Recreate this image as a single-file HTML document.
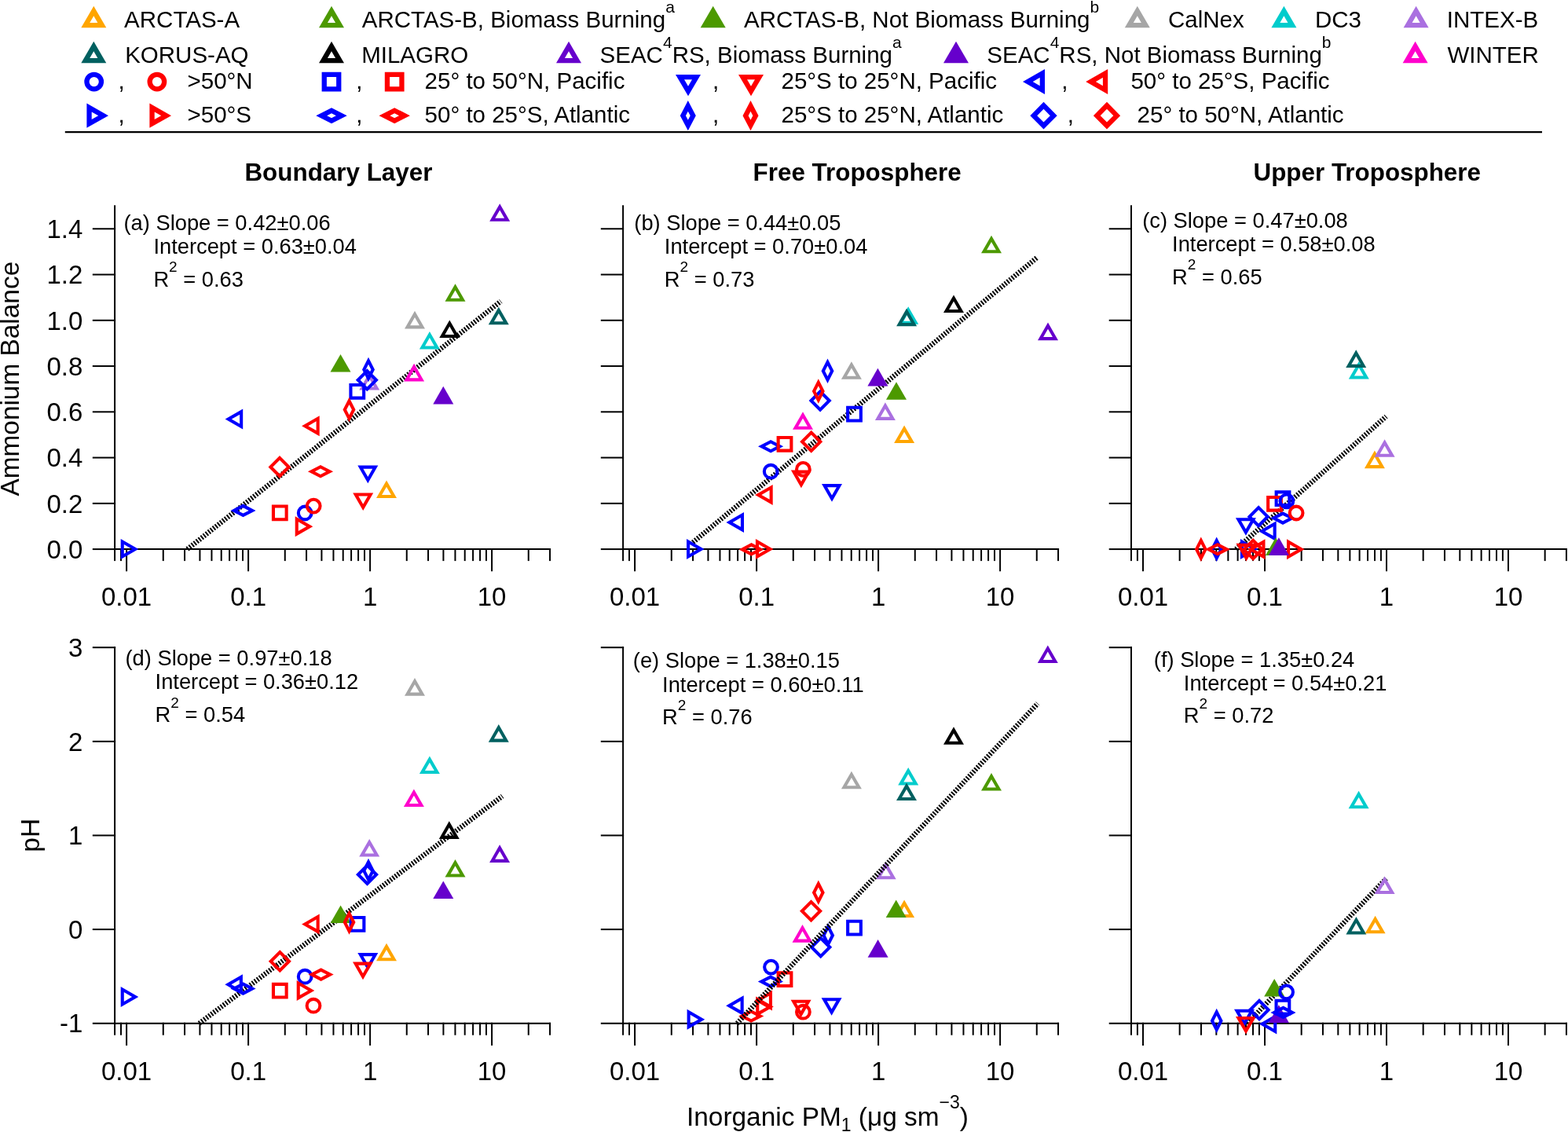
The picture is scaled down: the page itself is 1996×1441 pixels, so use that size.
<!DOCTYPE html><html><head><meta charset="utf-8"><title>Ammonium balance and pH vs inorganic PM1</title><style>html,body{margin:0;padding:0;background:#fff;}svg{display:block;}text{font-family:'Liberation Sans', Arial, sans-serif;fill:#000;}</style></head><body>
<svg width="1996" height="1441" viewBox="0 0 1996 1441">
<rect width="1996" height="1441" fill="#fff"/>
<path d="M119.3,7.8 L135.3,35.3 L103.3,35.3 Z M114.25,29 L124.35,29 L119.3,20.33 Z" fill="#FFA500" fill-rule="evenodd"/>
<text x="158.1" y="34.7" font-size="29.5">ARCTAS-A</text>
<path d="M422,7.8 L438,35.3 L406,35.3 Z M416.95,29 L427.05,29 L422,20.33 Z" fill="#4C9900" fill-rule="evenodd"/>
<text x="460.8" y="34.7" font-size="29.5">ARCTAS-B, Biomass Burning<tspan font-size="21" dy="-19">a</tspan></text>
<path d="M907.7,7.8 L923.7,35.3 L891.7,35.3 Z" fill="#4C9900"/>
<text x="947" y="34.7" font-size="29.5">ARCTAS-B, Not Biomass Burning<tspan font-size="21" dy="-19">b</tspan></text>
<path d="M1447.8,7.8 L1463.8,35.3 L1431.8,35.3 Z M1442.75,29 L1452.85,29 L1447.8,20.33 Z" fill="#A6A6A6" fill-rule="evenodd"/>
<text x="1487" y="34.7" font-size="29.5">CalNex</text>
<path d="M1634.4,7.8 L1650.4,35.3 L1618.4,35.3 Z M1629.35,29 L1639.45,29 L1634.4,20.33 Z" fill="#00CCCC" fill-rule="evenodd"/>
<text x="1674" y="34.7" font-size="29.5">DC3</text>
<path d="M1802.6,7.8 L1818.6,35.3 L1786.6,35.3 Z M1797.55,29 L1807.65,29 L1802.6,20.33 Z" fill="#AA70E0" fill-rule="evenodd"/>
<text x="1841.8" y="34.7" font-size="29.5">INTEX-B</text>
<path d="M119.3,52.75 L135.3,80.25 L103.3,80.25 Z M114.25,73.95 L124.35,73.95 L119.3,65.28 Z" fill="#006060" fill-rule="evenodd"/>
<text x="159.2" y="79.8" font-size="29.5">KORUS-AQ</text>
<path d="M422,52.75 L438,80.25 L406,80.25 Z M416.95,73.95 L427.05,73.95 L422,65.28 Z" fill="#000000" fill-rule="evenodd"/>
<text x="460.2" y="79.8" font-size="29.5">MILAGRO</text>
<path d="M724,52.75 L740,80.25 L708,80.25 Z M718.95,73.95 L729.05,73.95 L724,65.28 Z" fill="#6600CC" fill-rule="evenodd"/>
<text x="763.6" y="79.8" font-size="29.5">SEAC<tspan font-size="21" dy="-19">4</tspan><tspan font-size="29.5" dy="19">RS, Biomass Burning</tspan><tspan font-size="21" dy="-19">a</tspan></text>
<path d="M1217,52.75 L1233,80.25 L1201,80.25 Z" fill="#6600CC"/>
<text x="1256.3" y="79.8" font-size="29.5">SEAC<tspan font-size="21" dy="-19">4</tspan><tspan font-size="29.5" dy="19">RS, Not Biomass Burning</tspan><tspan font-size="21" dy="-19">b</tspan></text>
<path d="M1801.6,52.75 L1817.6,80.25 L1785.6,80.25 Z M1796.55,73.95 L1806.65,73.95 L1801.6,65.28 Z" fill="#FF00CC" fill-rule="evenodd"/>
<text x="1842.5" y="79.8" font-size="29.5">WINTER</text>
<circle cx="119.7" cy="104.1" r="9.25" fill="none" stroke="#0000FF" stroke-width="6.3"/>
<text x="150.6" y="112.8" font-size="29.5">,</text>
<circle cx="199.9" cy="104.1" r="9.25" fill="none" stroke="#FF0000" stroke-width="6.3"/>
<text x="238.5" y="112.8" font-size="29.5">&gt;50°N</text>
<path d="M409.6,91.7 L434.4,91.7 L434.4,116.5 L409.6,116.5 Z M415.9,110.2 L428.1,110.2 L428.1,98 L415.9,98 Z" fill="#0000FF" fill-rule="evenodd"/>
<text x="453.3" y="112.8" font-size="29.5">,</text>
<path d="M489.8,91.7 L514.6,91.7 L514.6,116.5 L489.8,116.5 Z M496.1,110.2 L508.3,110.2 L508.3,98 L496.1,98 Z" fill="#FF0000" fill-rule="evenodd"/>
<text x="540.6" y="112.8" font-size="29.5">25° to 50°N, Pacific</text>
<path d="M860,95 L892,95 L876,122.2 Z M876,109.77 L880.98,101.3 L871.02,101.3 Z" fill="#0000FF" fill-rule="evenodd"/>
<text x="907" y="112.8" font-size="29.5">,</text>
<path d="M940,95 L972,95 L956,122.2 Z M956,109.77 L960.98,101.3 L951.02,101.3 Z" fill="#FF0000" fill-rule="evenodd"/>
<text x="994.5" y="112.8" font-size="29.5">25°S to 25°N, Pacific</text>
<path d="M1302,104 L1330,88 L1330,120 Z M1323.7,109.14 L1323.7,98.86 L1314.7,104 Z" fill="#0000FF" fill-rule="evenodd"/>
<text x="1351.3" y="112.8" font-size="29.5">,</text>
<path d="M1382.2,104 L1410.2,88 L1410.2,120 Z M1403.9,109.14 L1403.9,98.86 L1394.9,104 Z" fill="#FF0000" fill-rule="evenodd"/>
<text x="1439.4" y="112.8" font-size="29.5">50° to 25°S, Pacific</text>
<path d="M110.4,131.6 L138,147.2 L110.4,162.8 Z M116.7,152 L125.2,147.2 L116.7,142.4 Z" fill="#0000FF" fill-rule="evenodd"/>
<text x="150.6" y="156.2" font-size="29.5">,</text>
<path d="M190.4,131.6 L218,147.2 L190.4,162.8 Z M196.7,152 L205.2,147.2 L196.7,142.4 Z" fill="#FF0000" fill-rule="evenodd"/>
<text x="238.5" y="156.2" font-size="29.5">&gt;50°S</text>
<path d="M422,137.15 L441.7,147.2 L422,157.25 L402.3,147.2 Z M416.16,147.2 L422,150.18 L427.84,147.2 L422,144.22 Z" fill="#0000FF" fill-rule="evenodd"/>
<text x="453.3" y="156.2" font-size="29.5">,</text>
<path d="M502.2,137.15 L521.9,147.2 L502.2,157.25 L482.5,147.2 Z M496.36,147.2 L502.2,150.18 L508.04,147.2 L502.2,144.22 Z" fill="#FF0000" fill-rule="evenodd"/>
<text x="540.6" y="156.2" font-size="29.5">50° to 25°S, Atlantic</text>
<path d="M875.8,128.05 L885.8,147.2 L875.8,166.35 L865.8,147.2 Z M872.91,147.2 L875.8,152.74 L878.69,147.2 L875.8,141.66 Z" fill="#0000FF" fill-rule="evenodd"/>
<text x="907" y="156.2" font-size="29.5">,</text>
<path d="M955.5,128.05 L965.5,147.2 L955.5,166.35 L945.5,147.2 Z M952.61,147.2 L955.5,152.74 L958.39,147.2 L955.5,141.66 Z" fill="#FF0000" fill-rule="evenodd"/>
<text x="994.5" y="156.2" font-size="29.5">25°S to 25°N, Atlantic</text>
<path d="M1328.5,129.85 L1345.65,147.2 L1328.5,164.55 L1311.35,147.2 Z M1320.21,147.2 L1328.5,155.59 L1336.79,147.2 L1328.5,138.81 Z" fill="#0000FF" fill-rule="evenodd"/>
<text x="1358.8" y="156.2" font-size="29.5">,</text>
<path d="M1409,129.85 L1426.15,147.2 L1409,164.55 L1391.85,147.2 Z M1400.71,147.2 L1409,155.59 L1417.29,147.2 L1409,138.81 Z" fill="#FF0000" fill-rule="evenodd"/>
<text x="1447.6" y="156.2" font-size="29.5">25° to 50°N, Atlantic</text>
<line x1="82.8" y1="168.2" x2="1963" y2="168.2" stroke="#000" stroke-width="2.2"/>
<text x="430.95" y="230.1" font-size="31.4" font-weight="bold" text-anchor="middle">Boundary Layer</text>
<text x="1091.15" y="230.1" font-size="31.4" font-weight="bold" text-anchor="middle">Free Troposphere</text>
<text x="1740.25" y="230.2" font-size="31.4" font-weight="bold" text-anchor="middle">Upper Troposphere</text>
<text transform="translate(24.4,482.2) rotate(-90)" font-size="33.4" text-anchor="middle">Ammonium Balance</text>
<text transform="translate(50,1063.3) rotate(-90)" font-size="33.4" text-anchor="middle">pH</text>
<text x="874.0" y="1432.5" font-size="33.4">Inorganic PM<tspan font-size="23" dy="7.5">1</tspan><tspan font-size="33.4" dy="-7.5"> (μg sm</tspan><tspan font-size="23" dy="-21.8">−3</tspan><tspan font-size="33.4" dy="21.8">)</tspan></text>
<g stroke="#000" stroke-width="2" stroke-linecap="square" fill="none"><line x1="146.1" y1="262.15" x2="146.1" y2="699.1"/><line x1="146.1" y1="699.1" x2="700.05" y2="699.1"/><line x1="118.8" y1="699.1" x2="146.1" y2="699.1"/><line x1="118.8" y1="640.84" x2="146.1" y2="640.84"/><line x1="118.8" y1="582.58" x2="146.1" y2="582.58"/><line x1="118.8" y1="524.32" x2="146.1" y2="524.32"/><line x1="118.8" y1="466.06" x2="146.1" y2="466.06"/><line x1="118.8" y1="407.8" x2="146.1" y2="407.8"/><line x1="118.8" y1="349.54" x2="146.1" y2="349.54"/><line x1="118.8" y1="291.28" x2="146.1" y2="291.28"/><line x1="146.08" y1="699.1" x2="146.08" y2="713.1"/><line x1="154.01" y1="699.1" x2="154.01" y2="713.1"/><line x1="161.1" y1="699.1" x2="161.1" y2="726.3"/><line x1="207.76" y1="699.1" x2="207.76" y2="713.1"/><line x1="235.05" y1="699.1" x2="235.05" y2="713.1"/><line x1="254.42" y1="699.1" x2="254.42" y2="713.1"/><line x1="269.44" y1="699.1" x2="269.44" y2="713.1"/><line x1="281.71" y1="699.1" x2="281.71" y2="713.1"/><line x1="292.09" y1="699.1" x2="292.09" y2="713.1"/><line x1="301.08" y1="699.1" x2="301.08" y2="713.1"/><line x1="309.01" y1="699.1" x2="309.01" y2="713.1"/><line x1="316.1" y1="699.1" x2="316.1" y2="726.3"/><line x1="362.76" y1="699.1" x2="362.76" y2="713.1"/><line x1="390.05" y1="699.1" x2="390.05" y2="713.1"/><line x1="409.42" y1="699.1" x2="409.42" y2="713.1"/><line x1="424.44" y1="699.1" x2="424.44" y2="713.1"/><line x1="436.71" y1="699.1" x2="436.71" y2="713.1"/><line x1="447.09" y1="699.1" x2="447.09" y2="713.1"/><line x1="456.08" y1="699.1" x2="456.08" y2="713.1"/><line x1="464.01" y1="699.1" x2="464.01" y2="713.1"/><line x1="471.1" y1="699.1" x2="471.1" y2="726.3"/><line x1="517.76" y1="699.1" x2="517.76" y2="713.1"/><line x1="545.05" y1="699.1" x2="545.05" y2="713.1"/><line x1="564.42" y1="699.1" x2="564.42" y2="713.1"/><line x1="579.44" y1="699.1" x2="579.44" y2="713.1"/><line x1="591.71" y1="699.1" x2="591.71" y2="713.1"/><line x1="602.09" y1="699.1" x2="602.09" y2="713.1"/><line x1="611.08" y1="699.1" x2="611.08" y2="713.1"/><line x1="619.01" y1="699.1" x2="619.01" y2="713.1"/><line x1="626.1" y1="699.1" x2="626.1" y2="726.3"/><line x1="672.76" y1="699.1" x2="672.76" y2="713.1"/><line x1="700.05" y1="699.1" x2="700.05" y2="713.1"/></g>
<text x="105.3" y="710.8" font-size="33" text-anchor="end">0.0</text>
<text x="105.3" y="652.54" font-size="33" text-anchor="end">0.2</text>
<text x="105.3" y="594.28" font-size="33" text-anchor="end">0.4</text>
<text x="105.3" y="536.02" font-size="33" text-anchor="end">0.6</text>
<text x="105.3" y="477.76" font-size="33" text-anchor="end">0.8</text>
<text x="105.3" y="419.5" font-size="33" text-anchor="end">1.0</text>
<text x="105.3" y="361.24" font-size="33" text-anchor="end">1.2</text>
<text x="105.3" y="302.98" font-size="33" text-anchor="end">1.4</text>
<text x="161.1" y="771.1" font-size="33" text-anchor="middle">0.01</text>
<text x="316.1" y="771.1" font-size="33" text-anchor="middle">0.1</text>
<text x="471.1" y="771.1" font-size="33" text-anchor="middle">1</text>
<text x="626.1" y="771.1" font-size="33" text-anchor="middle">10</text>
<text x="157.5" y="292.7" font-size="27.3">(a) Slope = 0.42±0.06</text>
<text x="195.4" y="323" font-size="27.3">Intercept = 0.63±0.04</text>
<text x="195.4" y="364.7" font-size="27.3">R<tspan font-size="19" dy="-18.5">2</tspan><tspan font-size="27.3" dy="18.5"> = 0.63</tspan></text>
<line x1="238.4" y1="699.1" x2="637.5" y2="383.5" stroke="#000" stroke-width="6.4" stroke-dasharray="2.0 1.85"/>
<path d="M153.7,686 L176.3,699 L153.7,712 Z M157.8,704.91 L168.08,699 L157.8,693.09 Z" fill="#0000FF" fill-rule="evenodd"/>
<path d="M286.6,533.6 L309.2,520.6 L309.2,546.6 Z M305.1,539.51 L305.1,527.69 L294.82,533.6 Z" fill="#0000FF" fill-rule="evenodd"/>
<path d="M384.1,542.2 L406.7,529.2 L406.7,555.2 Z M402.6,548.11 L402.6,536.29 L392.32,542.2 Z" fill="#FF0000" fill-rule="evenodd"/>
<path d="M356,580 L370.5,594.5 L356,609 L341.5,594.5 Z M347.3,594.5 L356,603.2 L364.7,594.5 L356,585.8 Z" fill="#FF0000" fill-rule="evenodd"/>
<path d="M408,592 L424.1,600.3 L408,608.6 L391.9,600.3 Z M400.85,600.3 L408,603.99 L415.15,600.3 L408,596.61 Z" fill="#FF0000" fill-rule="evenodd"/>
<path d="M309.5,641.6 L325.6,649.9 L309.5,658.2 L293.4,649.9 Z M302.35,649.9 L309.5,653.59 L316.65,649.9 L309.5,646.21 Z" fill="#0000FF" fill-rule="evenodd"/>
<path d="M345.9,642.5 L366.7,642.5 L366.7,663.3 L345.9,663.3 Z M350,659.2 L362.6,659.2 L362.6,646.6 L350,646.6 Z" fill="#FF0000" fill-rule="evenodd"/>
<circle cx="388.2" cy="653" r="8.35" fill="none" stroke="#0000FF" stroke-width="4.1"/>
<circle cx="399.2" cy="644.1" r="8.35" fill="none" stroke="#FF0000" stroke-width="4.1"/>
<path d="M375.7,657.2 L398.3,670.2 L375.7,683.2 Z M379.8,676.11 L390.08,670.2 L379.8,664.29 Z" fill="#FF0000" fill-rule="evenodd"/>
<path d="M433.5,450.9 L446.5,473.5 L420.5,473.5 Z" fill="#4C9900"/>
<path d="M470.2,474 L483.2,496.6 L457.2,496.6 Z M464.29,492.5 L476.11,492.5 L470.2,482.22 Z" fill="#AA70E0" fill-rule="evenodd"/>
<path d="M469,454.75 L477,470.5 L469,486.25 L461,470.5 Z M465.6,470.5 L469,477.2 L472.4,470.5 L469,463.8 Z" fill="#0000FF" fill-rule="evenodd"/>
<path d="M467.3,469.2 L481.8,483.7 L467.3,498.2 L452.8,483.7 Z M458.6,483.7 L467.3,492.4 L476,483.7 L467.3,475 Z" fill="#0000FF" fill-rule="evenodd"/>
<path d="M444.4,487.9 L465.2,487.9 L465.2,508.7 L444.4,508.7 Z M448.5,504.6 L461.1,504.6 L461.1,492 L448.5,492 Z" fill="#0000FF" fill-rule="evenodd"/>
<path d="M444.5,505.85 L452.5,521.6 L444.5,537.35 L436.5,521.6 Z M441.1,521.6 L444.5,528.3 L447.9,521.6 L444.5,514.9 Z" fill="#FF0000" fill-rule="evenodd"/>
<path d="M527.1,462.8 L540.1,485.4 L514.1,485.4 Z M521.19,481.3 L533.01,481.3 L527.1,471.02 Z" fill="#FF00CC" fill-rule="evenodd"/>
<path d="M546.9,421.9 L559.9,444.5 L533.9,444.5 Z M540.99,440.4 L552.81,440.4 L546.9,430.12 Z" fill="#00CCCC" fill-rule="evenodd"/>
<path d="M564.3,491.8 L577.3,514.4 L551.3,514.4 Z" fill="#6600CC"/>
<path d="M455.3,592.6 L481.3,592.6 L468.3,615.2 Z M468.3,606.98 L474.21,596.7 L462.39,596.7 Z" fill="#0000FF" fill-rule="evenodd"/>
<path d="M449.2,627.4 L475.2,627.4 L462.2,650 Z M462.2,641.78 L468.11,631.5 L456.29,631.5 Z" fill="#FF0000" fill-rule="evenodd"/>
<path d="M492,611.5 L505,634.1 L479,634.1 Z M486.09,630 L497.91,630 L492,619.72 Z" fill="#FFA500" fill-rule="evenodd"/>
<path d="M636.2,259.2 L649.2,281.8 L623.2,281.8 Z M630.29,277.7 L642.11,277.7 L636.2,267.42 Z" fill="#6600CC" fill-rule="evenodd"/>
<path d="M579.5,361.2 L592.5,383.8 L566.5,383.8 Z M573.59,379.7 L585.41,379.7 L579.5,369.42 Z" fill="#4C9900" fill-rule="evenodd"/>
<path d="M528,395.8 L541,418.4 L515,418.4 Z M522.09,414.3 L533.91,414.3 L528,404.02 Z" fill="#A6A6A6" fill-rule="evenodd"/>
<path d="M572.3,407.4 L585.3,430 L559.3,430 Z M566.39,425.9 L578.21,425.9 L572.3,415.62 Z" fill="#000000" fill-rule="evenodd"/>
<path d="M634.8,390.7 L647.8,413.3 L621.8,413.3 Z M628.89,409.2 L640.71,409.2 L634.8,398.92 Z" fill="#006060" fill-rule="evenodd"/>
<g stroke="#000" stroke-width="2" stroke-linecap="square" fill="none"><line x1="793.1" y1="262.15" x2="793.1" y2="699.1"/><line x1="793.1" y1="699.1" x2="1347.05" y2="699.1"/><line x1="765.8" y1="699.1" x2="793.1" y2="699.1"/><line x1="765.8" y1="640.84" x2="793.1" y2="640.84"/><line x1="765.8" y1="582.58" x2="793.1" y2="582.58"/><line x1="765.8" y1="524.32" x2="793.1" y2="524.32"/><line x1="765.8" y1="466.06" x2="793.1" y2="466.06"/><line x1="765.8" y1="407.8" x2="793.1" y2="407.8"/><line x1="765.8" y1="349.54" x2="793.1" y2="349.54"/><line x1="765.8" y1="291.28" x2="793.1" y2="291.28"/><line x1="793.08" y1="699.1" x2="793.08" y2="713.1"/><line x1="801.01" y1="699.1" x2="801.01" y2="713.1"/><line x1="808.1" y1="699.1" x2="808.1" y2="726.3"/><line x1="854.76" y1="699.1" x2="854.76" y2="713.1"/><line x1="882.05" y1="699.1" x2="882.05" y2="713.1"/><line x1="901.42" y1="699.1" x2="901.42" y2="713.1"/><line x1="916.44" y1="699.1" x2="916.44" y2="713.1"/><line x1="928.71" y1="699.1" x2="928.71" y2="713.1"/><line x1="939.09" y1="699.1" x2="939.09" y2="713.1"/><line x1="948.08" y1="699.1" x2="948.08" y2="713.1"/><line x1="956.01" y1="699.1" x2="956.01" y2="713.1"/><line x1="963.1" y1="699.1" x2="963.1" y2="726.3"/><line x1="1009.76" y1="699.1" x2="1009.76" y2="713.1"/><line x1="1037.05" y1="699.1" x2="1037.05" y2="713.1"/><line x1="1056.42" y1="699.1" x2="1056.42" y2="713.1"/><line x1="1071.44" y1="699.1" x2="1071.44" y2="713.1"/><line x1="1083.71" y1="699.1" x2="1083.71" y2="713.1"/><line x1="1094.09" y1="699.1" x2="1094.09" y2="713.1"/><line x1="1103.08" y1="699.1" x2="1103.08" y2="713.1"/><line x1="1111.01" y1="699.1" x2="1111.01" y2="713.1"/><line x1="1118.1" y1="699.1" x2="1118.1" y2="726.3"/><line x1="1164.76" y1="699.1" x2="1164.76" y2="713.1"/><line x1="1192.05" y1="699.1" x2="1192.05" y2="713.1"/><line x1="1211.42" y1="699.1" x2="1211.42" y2="713.1"/><line x1="1226.44" y1="699.1" x2="1226.44" y2="713.1"/><line x1="1238.71" y1="699.1" x2="1238.71" y2="713.1"/><line x1="1249.09" y1="699.1" x2="1249.09" y2="713.1"/><line x1="1258.08" y1="699.1" x2="1258.08" y2="713.1"/><line x1="1266.01" y1="699.1" x2="1266.01" y2="713.1"/><line x1="1273.1" y1="699.1" x2="1273.1" y2="726.3"/><line x1="1319.76" y1="699.1" x2="1319.76" y2="713.1"/><line x1="1347.05" y1="699.1" x2="1347.05" y2="713.1"/></g>
<text x="808.1" y="771.1" font-size="33" text-anchor="middle">0.01</text>
<text x="963.1" y="771.1" font-size="33" text-anchor="middle">0.1</text>
<text x="1118.1" y="771.1" font-size="33" text-anchor="middle">1</text>
<text x="1273.1" y="771.1" font-size="33" text-anchor="middle">10</text>
<text x="807.3" y="292.5" font-size="27.3">(b) Slope = 0.44±0.05</text>
<text x="845.8" y="323.4" font-size="27.3">Intercept = 0.70±0.04</text>
<text x="845.8" y="364.6" font-size="27.3">R<tspan font-size="19" dy="-18.5">2</tspan><tspan font-size="27.3" dy="18.5"> = 0.73</tspan></text>
<line x1="882" y1="690.4" x2="1320.5" y2="327.5" stroke="#000" stroke-width="6.4" stroke-dasharray="2.0 1.85"/>
<path d="M874,686 L896.6,699 L874,712 Z M878.1,704.91 L888.38,699 L878.1,693.09 Z" fill="#0000FF" fill-rule="evenodd"/>
<path d="M924.4,664.9 L947,651.9 L947,677.9 Z M942.9,670.81 L942.9,658.99 L932.62,664.9 Z" fill="#0000FF" fill-rule="evenodd"/>
<path d="M961.1,629.9 L983.7,616.9 L983.7,642.9 Z M979.6,635.81 L979.6,623.99 L969.32,629.9 Z" fill="#FF0000" fill-rule="evenodd"/>
<path d="M1006.9,598.6 L1032.9,598.6 L1019.9,621.2 Z M1019.9,612.98 L1025.81,602.7 L1013.99,602.7 Z" fill="#FF0000" fill-rule="evenodd"/>
<circle cx="981.2" cy="600.2" r="8.35" fill="none" stroke="#0000FF" stroke-width="4.1"/>
<circle cx="1022.4" cy="597.4" r="8.35" fill="none" stroke="#FF0000" stroke-width="4.1"/>
<path d="M981.1,560 L997.2,568.3 L981.1,576.6 L965,568.3 Z M973.95,568.3 L981.1,571.99 L988.25,568.3 L981.1,564.61 Z" fill="#0000FF" fill-rule="evenodd"/>
<path d="M988.6,554.9 L1009.4,554.9 L1009.4,575.7 L988.6,575.7 Z M992.7,571.6 L1005.3,571.6 L1005.3,559 L992.7,559 Z" fill="#FF0000" fill-rule="evenodd"/>
<path d="M1022,524.2 L1035,546.8 L1009,546.8 Z M1016.09,542.7 L1027.91,542.7 L1022,532.42 Z" fill="#FF00CC" fill-rule="evenodd"/>
<path d="M1032.7,547.8 L1047.2,562.3 L1032.7,576.8 L1018.2,562.3 Z M1024,562.3 L1032.7,571 L1041.4,562.3 L1032.7,553.6 Z" fill="#FF0000" fill-rule="evenodd"/>
<path d="M1044.1,495.5 L1058.6,510 L1044.1,524.5 L1029.6,510 Z M1035.4,510 L1044.1,518.7 L1052.8,510 L1044.1,501.3 Z" fill="#0000FF" fill-rule="evenodd"/>
<path d="M1041.8,482.25 L1049.8,498 L1041.8,513.75 L1033.8,498 Z M1038.4,498 L1041.8,504.7 L1045.2,498 L1041.8,491.3 Z" fill="#FF0000" fill-rule="evenodd"/>
<path d="M1046,616.1 L1072,616.1 L1059,638.7 Z M1059,630.48 L1064.91,620.2 L1053.09,620.2 Z" fill="#0000FF" fill-rule="evenodd"/>
<path d="M956.5,691.1 L972.6,699.4 L956.5,707.7 L940.4,699.4 Z M949.35,699.4 L956.5,703.09 L963.65,699.4 L956.5,695.71 Z" fill="#FF0000" fill-rule="evenodd"/>
<path d="M961.9,686 L984.5,699 L961.9,712 Z M966,704.91 L976.28,699 L966,693.09 Z" fill="#FF0000" fill-rule="evenodd"/>
<path d="M1053.5,456.55 L1061.5,472.3 L1053.5,488.05 L1045.5,472.3 Z M1050.1,472.3 L1053.5,479 L1056.9,472.3 L1053.5,465.6 Z" fill="#0000FF" fill-rule="evenodd"/>
<path d="M1083.9,460.2 L1096.9,482.8 L1070.9,482.8 Z M1077.99,478.7 L1089.81,478.7 L1083.9,468.42 Z" fill="#A6A6A6" fill-rule="evenodd"/>
<path d="M1117.4,468.8 L1130.4,491.4 L1104.4,491.4 Z" fill="#6600CC"/>
<path d="M1141,486.2 L1154,508.8 L1128,508.8 Z" fill="#4C9900"/>
<path d="M1126.9,512.3 L1139.9,534.9 L1113.9,534.9 Z M1120.99,530.8 L1132.81,530.8 L1126.9,520.52 Z" fill="#AA70E0" fill-rule="evenodd"/>
<path d="M1151.1,541.5 L1164.1,564.1 L1138.1,564.1 Z M1145.19,560 L1157.01,560 L1151.1,549.72 Z" fill="#FFA500" fill-rule="evenodd"/>
<path d="M1077.1,516.7 L1097.9,516.7 L1097.9,537.5 L1077.1,537.5 Z M1081.2,533.4 L1093.8,533.4 L1093.8,520.8 L1081.2,520.8 Z" fill="#0000FF" fill-rule="evenodd"/>
<path d="M1156.2,390.2 L1169.2,412.8 L1143.2,412.8 Z M1150.29,408.7 L1162.11,408.7 L1156.2,398.42 Z" fill="#00CCCC" fill-rule="evenodd"/>
<path d="M1154.1,392.6 L1167.1,415.2 L1141.1,415.2 Z M1148.19,411.1 L1160.01,411.1 L1154.1,400.82 Z" fill="#006060" fill-rule="evenodd"/>
<path d="M1214,375.4 L1227,398 L1201,398 Z M1208.09,393.9 L1219.91,393.9 L1214,383.62 Z" fill="#000000" fill-rule="evenodd"/>
<path d="M1262,299.7 L1275,322.3 L1249,322.3 Z M1256.09,318.2 L1267.91,318.2 L1262,307.92 Z" fill="#4C9900" fill-rule="evenodd"/>
<path d="M1334,410.6 L1347,433.2 L1321,433.2 Z M1328.09,429.1 L1339.91,429.1 L1334,418.82 Z" fill="#6600CC" fill-rule="evenodd"/>
<g stroke="#000" stroke-width="2" stroke-linecap="square" fill="none"><line x1="1440" y1="262.15" x2="1440" y2="699.1"/><line x1="1440" y1="699.1" x2="1993.95" y2="699.1"/><line x1="1412.7" y1="699.1" x2="1440" y2="699.1"/><line x1="1412.7" y1="640.84" x2="1440" y2="640.84"/><line x1="1412.7" y1="582.58" x2="1440" y2="582.58"/><line x1="1412.7" y1="524.32" x2="1440" y2="524.32"/><line x1="1412.7" y1="466.06" x2="1440" y2="466.06"/><line x1="1412.7" y1="407.8" x2="1440" y2="407.8"/><line x1="1412.7" y1="349.54" x2="1440" y2="349.54"/><line x1="1412.7" y1="291.28" x2="1440" y2="291.28"/><line x1="1439.98" y1="699.1" x2="1439.98" y2="713.1"/><line x1="1447.91" y1="699.1" x2="1447.91" y2="713.1"/><line x1="1455" y1="699.1" x2="1455" y2="726.3"/><line x1="1501.66" y1="699.1" x2="1501.66" y2="713.1"/><line x1="1528.95" y1="699.1" x2="1528.95" y2="713.1"/><line x1="1548.32" y1="699.1" x2="1548.32" y2="713.1"/><line x1="1563.34" y1="699.1" x2="1563.34" y2="713.1"/><line x1="1575.61" y1="699.1" x2="1575.61" y2="713.1"/><line x1="1585.99" y1="699.1" x2="1585.99" y2="713.1"/><line x1="1594.98" y1="699.1" x2="1594.98" y2="713.1"/><line x1="1602.91" y1="699.1" x2="1602.91" y2="713.1"/><line x1="1610" y1="699.1" x2="1610" y2="726.3"/><line x1="1656.66" y1="699.1" x2="1656.66" y2="713.1"/><line x1="1683.95" y1="699.1" x2="1683.95" y2="713.1"/><line x1="1703.32" y1="699.1" x2="1703.32" y2="713.1"/><line x1="1718.34" y1="699.1" x2="1718.34" y2="713.1"/><line x1="1730.61" y1="699.1" x2="1730.61" y2="713.1"/><line x1="1740.99" y1="699.1" x2="1740.99" y2="713.1"/><line x1="1749.98" y1="699.1" x2="1749.98" y2="713.1"/><line x1="1757.91" y1="699.1" x2="1757.91" y2="713.1"/><line x1="1765" y1="699.1" x2="1765" y2="726.3"/><line x1="1811.66" y1="699.1" x2="1811.66" y2="713.1"/><line x1="1838.95" y1="699.1" x2="1838.95" y2="713.1"/><line x1="1858.32" y1="699.1" x2="1858.32" y2="713.1"/><line x1="1873.34" y1="699.1" x2="1873.34" y2="713.1"/><line x1="1885.61" y1="699.1" x2="1885.61" y2="713.1"/><line x1="1895.99" y1="699.1" x2="1895.99" y2="713.1"/><line x1="1904.98" y1="699.1" x2="1904.98" y2="713.1"/><line x1="1912.91" y1="699.1" x2="1912.91" y2="713.1"/><line x1="1920" y1="699.1" x2="1920" y2="726.3"/><line x1="1966.66" y1="699.1" x2="1966.66" y2="713.1"/><line x1="1993.95" y1="699.1" x2="1993.95" y2="713.1"/></g>
<text x="1455" y="771.1" font-size="33" text-anchor="middle">0.01</text>
<text x="1610" y="771.1" font-size="33" text-anchor="middle">0.1</text>
<text x="1765" y="771.1" font-size="33" text-anchor="middle">1</text>
<text x="1920" y="771.1" font-size="33" text-anchor="middle">10</text>
<text x="1454.2" y="289.6" font-size="27.3">(c) Slope = 0.47±0.08</text>
<text x="1492.1" y="320.2" font-size="27.3">Intercept = 0.58±0.08</text>
<text x="1492.1" y="361.7" font-size="27.3">R<tspan font-size="19" dy="-18.5">2</tspan><tspan font-size="27.3" dy="18.5"> = 0.65</tspan></text>
<line x1="1573.3" y1="699.1" x2="1764.5" y2="530.1" stroke="#000" stroke-width="6.4" stroke-dasharray="2.0 1.85"/>
<path d="M1528.8,683.45 L1536.8,699.2 L1528.8,714.95 L1520.8,699.2 Z M1525.4,699.2 L1528.8,705.9 L1532.2,699.2 L1528.8,692.5 Z" fill="#FF0000" fill-rule="evenodd"/>
<path d="M1548.7,683.45 L1556.7,699.2 L1548.7,714.95 L1540.7,699.2 Z M1545.3,699.2 L1548.7,705.9 L1552.1,699.2 L1548.7,692.5 Z" fill="#0000FF" fill-rule="evenodd"/>
<path d="M1550,690.9 L1566.1,699.2 L1550,707.5 L1533.9,699.2 Z M1542.85,699.2 L1550,702.89 L1557.15,699.2 L1550,695.51 Z" fill="#FF0000" fill-rule="evenodd"/>
<path d="M1572.9,659.2 L1598.9,659.2 L1585.9,681.8 Z M1585.9,673.58 L1591.81,663.3 L1579.99,663.3 Z" fill="#0000FF" fill-rule="evenodd"/>
<path d="M1602.1,643.2 L1616.6,657.7 L1602.1,672.2 L1587.6,657.7 Z M1593.4,657.7 L1602.1,666.4 L1610.8,657.7 L1602.1,649 Z" fill="#0000FF" fill-rule="evenodd"/>
<path d="M1602.1,676.2 L1624.7,663.2 L1624.7,689.2 Z M1620.6,682.11 L1620.6,670.29 L1610.32,676.2 Z" fill="#0000FF" fill-rule="evenodd"/>
<path d="M1633,651.3 L1649.1,659.6 L1633,667.9 L1616.9,659.6 Z M1625.85,659.6 L1633,663.29 L1640.15,659.6 L1633,655.91 Z" fill="#0000FF" fill-rule="evenodd"/>
<path d="M1622.6,624.3 L1643.4,624.3 L1643.4,645.1 L1622.6,645.1 Z M1626.7,641 L1639.3,641 L1639.3,628.4 L1626.7,628.4 Z" fill="#0000FF" fill-rule="evenodd"/>
<path d="M1612.1,630.9 L1632.9,630.9 L1632.9,651.7 L1612.1,651.7 Z M1616.2,647.6 L1628.8,647.6 L1628.8,635 L1616.2,635 Z" fill="#FF0000" fill-rule="evenodd"/>
<circle cx="1637.9" cy="637.8" r="8.35" fill="none" stroke="#0000FF" stroke-width="4.1"/>
<circle cx="1650.1" cy="653" r="8.35" fill="none" stroke="#FF0000" stroke-width="4.1"/>
<path d="M1638,686.2 L1660.6,699.2 L1638,712.2 Z M1642.1,705.11 L1652.38,699.2 L1642.1,693.29 Z" fill="#FF0000" fill-rule="evenodd"/>
<path d="M1623.9,684.3 L1636.9,706.9 L1610.9,706.9 Z" fill="#4C9900"/>
<path d="M1627.9,684.3 L1640.9,706.9 L1614.9,706.9 Z" fill="#6600CC"/>
<path d="M1578.9,685.9 L1601.5,698.9 L1578.9,711.9 Z M1583,704.81 L1593.28,698.9 L1583,692.99 Z" fill="#0000FF" fill-rule="evenodd"/>
<path d="M1573.5,691.8 L1599.5,691.8 L1586.5,714.4 Z M1586.5,706.18 L1592.41,695.9 L1580.59,695.9 Z" fill="#FF0000" fill-rule="evenodd"/>
<path d="M1595.1,685 L1609.6,699.5 L1595.1,714 L1580.6,699.5 Z M1586.4,699.5 L1595.1,708.2 L1603.8,699.5 L1595.1,690.8 Z" fill="#FF0000" fill-rule="evenodd"/>
<path d="M1587.9,699.3 L1610.5,686.3 L1610.5,712.3 Z M1606.4,705.21 L1606.4,693.39 L1596.12,699.3 Z" fill="#FF0000" fill-rule="evenodd"/>
<path d="M1729.8,460 L1742.8,482.6 L1716.8,482.6 Z M1723.89,478.5 L1735.71,478.5 L1729.8,468.22 Z" fill="#00CCCC" fill-rule="evenodd"/>
<path d="M1726.2,445.3 L1739.2,467.9 L1713.2,467.9 Z M1720.29,463.8 L1732.11,463.8 L1726.2,453.52 Z" fill="#006060" fill-rule="evenodd"/>
<path d="M1749.9,573.6 L1762.9,596.2 L1736.9,596.2 Z M1743.99,592.1 L1755.81,592.1 L1749.9,581.82 Z" fill="#FFA500" fill-rule="evenodd"/>
<path d="M1762.6,559.2 L1775.6,581.8 L1749.6,581.8 Z M1756.69,577.7 L1768.51,577.7 L1762.6,567.42 Z" fill="#AA70E0" fill-rule="evenodd"/>
<g stroke="#000" stroke-width="2" stroke-linecap="square" fill="none"><line x1="146.1" y1="824.21" x2="146.1" y2="1302.73"/><line x1="146.1" y1="1302.73" x2="700.05" y2="1302.73"/><line x1="118.8" y1="1302.73" x2="146.1" y2="1302.73"/><line x1="118.8" y1="1183.1" x2="146.1" y2="1183.1"/><line x1="118.8" y1="1063.47" x2="146.1" y2="1063.47"/><line x1="118.8" y1="943.84" x2="146.1" y2="943.84"/><line x1="118.8" y1="824.21" x2="146.1" y2="824.21"/><line x1="146.08" y1="1302.73" x2="146.08" y2="1316.73"/><line x1="154.01" y1="1302.73" x2="154.01" y2="1316.73"/><line x1="161.1" y1="1302.73" x2="161.1" y2="1329.93"/><line x1="207.76" y1="1302.73" x2="207.76" y2="1316.73"/><line x1="235.05" y1="1302.73" x2="235.05" y2="1316.73"/><line x1="254.42" y1="1302.73" x2="254.42" y2="1316.73"/><line x1="269.44" y1="1302.73" x2="269.44" y2="1316.73"/><line x1="281.71" y1="1302.73" x2="281.71" y2="1316.73"/><line x1="292.09" y1="1302.73" x2="292.09" y2="1316.73"/><line x1="301.08" y1="1302.73" x2="301.08" y2="1316.73"/><line x1="309.01" y1="1302.73" x2="309.01" y2="1316.73"/><line x1="316.1" y1="1302.73" x2="316.1" y2="1329.93"/><line x1="362.76" y1="1302.73" x2="362.76" y2="1316.73"/><line x1="390.05" y1="1302.73" x2="390.05" y2="1316.73"/><line x1="409.42" y1="1302.73" x2="409.42" y2="1316.73"/><line x1="424.44" y1="1302.73" x2="424.44" y2="1316.73"/><line x1="436.71" y1="1302.73" x2="436.71" y2="1316.73"/><line x1="447.09" y1="1302.73" x2="447.09" y2="1316.73"/><line x1="456.08" y1="1302.73" x2="456.08" y2="1316.73"/><line x1="464.01" y1="1302.73" x2="464.01" y2="1316.73"/><line x1="471.1" y1="1302.73" x2="471.1" y2="1329.93"/><line x1="517.76" y1="1302.73" x2="517.76" y2="1316.73"/><line x1="545.05" y1="1302.73" x2="545.05" y2="1316.73"/><line x1="564.42" y1="1302.73" x2="564.42" y2="1316.73"/><line x1="579.44" y1="1302.73" x2="579.44" y2="1316.73"/><line x1="591.71" y1="1302.73" x2="591.71" y2="1316.73"/><line x1="602.09" y1="1302.73" x2="602.09" y2="1316.73"/><line x1="611.08" y1="1302.73" x2="611.08" y2="1316.73"/><line x1="619.01" y1="1302.73" x2="619.01" y2="1316.73"/><line x1="626.1" y1="1302.73" x2="626.1" y2="1329.93"/><line x1="672.76" y1="1302.73" x2="672.76" y2="1316.73"/><line x1="700.05" y1="1302.73" x2="700.05" y2="1316.73"/></g>
<text x="105.3" y="1314.43" font-size="33" text-anchor="end">-1</text>
<text x="105.3" y="1194.8" font-size="33" text-anchor="end">0</text>
<text x="105.3" y="1075.17" font-size="33" text-anchor="end">1</text>
<text x="105.3" y="955.54" font-size="33" text-anchor="end">2</text>
<text x="105.3" y="835.91" font-size="33" text-anchor="end">3</text>
<text x="161.1" y="1374.73" font-size="33" text-anchor="middle">0.01</text>
<text x="316.1" y="1374.73" font-size="33" text-anchor="middle">0.1</text>
<text x="471.1" y="1374.73" font-size="33" text-anchor="middle">1</text>
<text x="626.1" y="1374.73" font-size="33" text-anchor="middle">10</text>
<text x="159.5" y="847" font-size="27.3">(d) Slope = 0.97±0.18</text>
<text x="197.6" y="877.2" font-size="27.3">Intercept = 0.36±0.12</text>
<text x="197.6" y="919.1" font-size="27.3">R<tspan font-size="19" dy="-18.5">2</tspan><tspan font-size="27.3" dy="18.5"> = 0.54</tspan></text>
<line x1="253.6" y1="1302.7" x2="639.5" y2="1013.5" stroke="#000" stroke-width="6.4" stroke-dasharray="2.0 1.85"/>
<path d="M153.7,1256 L176.3,1269 L153.7,1282 Z M157.8,1274.91 L168.08,1269 L157.8,1263.09 Z" fill="#0000FF" fill-rule="evenodd"/>
<path d="M286.3,1253.2 L308.9,1240.2 L308.9,1266.2 Z M304.8,1259.11 L304.8,1247.29 L294.52,1253.2 Z" fill="#0000FF" fill-rule="evenodd"/>
<path d="M309.5,1250.3 L325.6,1258.6 L309.5,1266.9 L293.4,1258.6 Z M302.35,1258.6 L309.5,1262.29 L316.65,1258.6 L309.5,1254.91 Z" fill="#0000FF" fill-rule="evenodd"/>
<path d="M356.3,1209.3 L370.8,1223.8 L356.3,1238.3 L341.8,1223.8 Z M347.6,1223.8 L356.3,1232.5 L365,1223.8 L356.3,1215.1 Z" fill="#FF0000" fill-rule="evenodd"/>
<path d="M384.1,1176.4 L406.7,1163.4 L406.7,1189.4 Z M402.6,1182.31 L402.6,1170.49 L392.32,1176.4 Z" fill="#FF0000" fill-rule="evenodd"/>
<circle cx="388.2" cy="1243.2" r="8.35" fill="none" stroke="#0000FF" stroke-width="4.1"/>
<path d="M408.6,1232.3 L424.7,1240.6 L408.6,1248.9 L392.5,1240.6 Z M401.45,1240.6 L408.6,1244.29 L415.75,1240.6 L408.6,1236.91 Z" fill="#FF0000" fill-rule="evenodd"/>
<path d="M345.9,1250.8 L366.7,1250.8 L366.7,1271.6 L345.9,1271.6 Z M350,1267.5 L362.6,1267.5 L362.6,1254.9 L350,1254.9 Z" fill="#FF0000" fill-rule="evenodd"/>
<path d="M377.7,1247.9 L400.3,1260.9 L377.7,1273.9 Z M381.8,1266.81 L392.08,1260.9 L381.8,1254.99 Z" fill="#FF0000" fill-rule="evenodd"/>
<circle cx="399" cy="1280.2" r="8.35" fill="none" stroke="#FF0000" stroke-width="4.1"/>
<path d="M470.2,1068 L483.2,1090.6 L457.2,1090.6 Z M464.29,1086.5 L476.11,1086.5 L470.2,1076.22 Z" fill="#AA70E0" fill-rule="evenodd"/>
<path d="M469,1092.75 L477,1108.5 L469,1124.25 L461,1108.5 Z M465.6,1108.5 L469,1115.2 L472.4,1108.5 L469,1101.8 Z" fill="#0000FF" fill-rule="evenodd"/>
<path d="M467.5,1098.7 L482,1113.2 L467.5,1127.7 L453,1113.2 Z M458.8,1113.2 L467.5,1121.9 L476.2,1113.2 L467.5,1104.5 Z" fill="#0000FF" fill-rule="evenodd"/>
<path d="M571.8,1045.3 L584.8,1067.9 L558.8,1067.9 Z M565.89,1063.8 L577.71,1063.8 L571.8,1053.52 Z" fill="#000000" fill-rule="evenodd"/>
<path d="M636.1,1075.3 L649.1,1097.9 L623.1,1097.9 Z M630.19,1093.8 L642.01,1093.8 L636.1,1083.52 Z" fill="#6600CC" fill-rule="evenodd"/>
<path d="M579.5,1094 L592.5,1116.6 L566.5,1116.6 Z M573.59,1112.5 L585.41,1112.5 L579.5,1102.22 Z" fill="#4C9900" fill-rule="evenodd"/>
<path d="M564.3,1121.5 L577.3,1144.1 L551.3,1144.1 Z" fill="#6600CC"/>
<path d="M433.6,1152.5 L446.6,1175.1 L420.6,1175.1 Z" fill="#4C9900"/>
<path d="M444.6,1166 L465.4,1166 L465.4,1186.8 L444.6,1186.8 Z M448.7,1182.7 L461.3,1182.7 L461.3,1170.1 L448.7,1170.1 Z" fill="#0000FF" fill-rule="evenodd"/>
<path d="M444.5,1158.35 L452.5,1174.1 L444.5,1189.85 L436.5,1174.1 Z M441.1,1174.1 L444.5,1180.8 L447.9,1174.1 L444.5,1167.4 Z" fill="#FF0000" fill-rule="evenodd"/>
<path d="M492,1200.7 L505,1223.3 L479,1223.3 Z M486.09,1219.2 L497.91,1219.2 L492,1208.92 Z" fill="#FFA500" fill-rule="evenodd"/>
<path d="M455.3,1213.1 L481.3,1213.1 L468.3,1235.7 Z M468.3,1227.48 L474.21,1217.2 L462.39,1217.2 Z" fill="#0000FF" fill-rule="evenodd"/>
<path d="M449,1224.6 L475,1224.6 L462,1247.2 Z M462,1238.98 L467.91,1228.7 L456.09,1228.7 Z" fill="#FF0000" fill-rule="evenodd"/>
<path d="M526.9,1004.5 L539.9,1027.1 L513.9,1027.1 Z M520.99,1023 L532.81,1023 L526.9,1012.72 Z" fill="#FF00CC" fill-rule="evenodd"/>
<path d="M528,863.1 L541,885.7 L515,885.7 Z M522.09,881.6 L533.91,881.6 L528,871.32 Z" fill="#A6A6A6" fill-rule="evenodd"/>
<path d="M634.8,922.1 L647.8,944.7 L621.8,944.7 Z M628.89,940.6 L640.71,940.6 L634.8,930.32 Z" fill="#006060" fill-rule="evenodd"/>
<path d="M546.9,962.5 L559.9,985.1 L533.9,985.1 Z M540.99,981 L552.81,981 L546.9,970.72 Z" fill="#00CCCC" fill-rule="evenodd"/>
<g stroke="#000" stroke-width="2" stroke-linecap="square" fill="none"><line x1="793.1" y1="824.21" x2="793.1" y2="1302.73"/><line x1="793.1" y1="1302.73" x2="1347.05" y2="1302.73"/><line x1="765.8" y1="1302.73" x2="793.1" y2="1302.73"/><line x1="765.8" y1="1183.1" x2="793.1" y2="1183.1"/><line x1="765.8" y1="1063.47" x2="793.1" y2="1063.47"/><line x1="765.8" y1="943.84" x2="793.1" y2="943.84"/><line x1="765.8" y1="824.21" x2="793.1" y2="824.21"/><line x1="793.08" y1="1302.73" x2="793.08" y2="1316.73"/><line x1="801.01" y1="1302.73" x2="801.01" y2="1316.73"/><line x1="808.1" y1="1302.73" x2="808.1" y2="1329.93"/><line x1="854.76" y1="1302.73" x2="854.76" y2="1316.73"/><line x1="882.05" y1="1302.73" x2="882.05" y2="1316.73"/><line x1="901.42" y1="1302.73" x2="901.42" y2="1316.73"/><line x1="916.44" y1="1302.73" x2="916.44" y2="1316.73"/><line x1="928.71" y1="1302.73" x2="928.71" y2="1316.73"/><line x1="939.09" y1="1302.73" x2="939.09" y2="1316.73"/><line x1="948.08" y1="1302.73" x2="948.08" y2="1316.73"/><line x1="956.01" y1="1302.73" x2="956.01" y2="1316.73"/><line x1="963.1" y1="1302.73" x2="963.1" y2="1329.93"/><line x1="1009.76" y1="1302.73" x2="1009.76" y2="1316.73"/><line x1="1037.05" y1="1302.73" x2="1037.05" y2="1316.73"/><line x1="1056.42" y1="1302.73" x2="1056.42" y2="1316.73"/><line x1="1071.44" y1="1302.73" x2="1071.44" y2="1316.73"/><line x1="1083.71" y1="1302.73" x2="1083.71" y2="1316.73"/><line x1="1094.09" y1="1302.73" x2="1094.09" y2="1316.73"/><line x1="1103.08" y1="1302.73" x2="1103.08" y2="1316.73"/><line x1="1111.01" y1="1302.73" x2="1111.01" y2="1316.73"/><line x1="1118.1" y1="1302.73" x2="1118.1" y2="1329.93"/><line x1="1164.76" y1="1302.73" x2="1164.76" y2="1316.73"/><line x1="1192.05" y1="1302.73" x2="1192.05" y2="1316.73"/><line x1="1211.42" y1="1302.73" x2="1211.42" y2="1316.73"/><line x1="1226.44" y1="1302.73" x2="1226.44" y2="1316.73"/><line x1="1238.71" y1="1302.73" x2="1238.71" y2="1316.73"/><line x1="1249.09" y1="1302.73" x2="1249.09" y2="1316.73"/><line x1="1258.08" y1="1302.73" x2="1258.08" y2="1316.73"/><line x1="1266.01" y1="1302.73" x2="1266.01" y2="1316.73"/><line x1="1273.1" y1="1302.73" x2="1273.1" y2="1329.93"/><line x1="1319.76" y1="1302.73" x2="1319.76" y2="1316.73"/><line x1="1347.05" y1="1302.73" x2="1347.05" y2="1316.73"/></g>
<text x="808.1" y="1374.73" font-size="33" text-anchor="middle">0.01</text>
<text x="963.1" y="1374.73" font-size="33" text-anchor="middle">0.1</text>
<text x="1118.1" y="1374.73" font-size="33" text-anchor="middle">1</text>
<text x="1273.1" y="1374.73" font-size="33" text-anchor="middle">10</text>
<text x="805.8" y="850.3" font-size="27.3">(e) Slope = 1.38±0.15</text>
<text x="843.1" y="881" font-size="27.3">Intercept = 0.60±0.11</text>
<text x="843.1" y="922.4" font-size="27.3">R<tspan font-size="19" dy="-18.5">2</tspan><tspan font-size="27.3" dy="18.5"> = 0.76</tspan></text>
<path d="M874.6,1284.7 L897.2,1297.7 L874.6,1310.7 Z M878.7,1303.61 L888.98,1297.7 L878.7,1291.79 Z" fill="#0000FF" fill-rule="evenodd"/>
<path d="M924.1,1280.2 L946.7,1267.2 L946.7,1293.2 Z M942.6,1286.11 L942.6,1274.29 L932.32,1280.2 Z" fill="#0000FF" fill-rule="evenodd"/>
<path d="M956.2,1285.2 L972.3,1293.5 L956.2,1301.8 L940.1,1293.5 Z M949.05,1293.5 L956.2,1297.19 L963.35,1293.5 L956.2,1289.81 Z" fill="#FF0000" fill-rule="evenodd"/>
<path d="M962.2,1268.4 L984.8,1281.4 L962.2,1294.4 Z M966.3,1287.31 L976.58,1281.4 L966.3,1275.49 Z" fill="#FF0000" fill-rule="evenodd"/>
<path d="M960.4,1273.6 L983,1260.6 L983,1286.6 Z M978.9,1279.51 L978.9,1267.69 L968.62,1273.6 Z" fill="#FF0000" fill-rule="evenodd"/>
<circle cx="981.5" cy="1231.1" r="8.35" fill="none" stroke="#0000FF" stroke-width="4.1"/>
<path d="M980.9,1241.3 L997,1249.6 L980.9,1257.9 L964.8,1249.6 Z M973.75,1249.6 L980.9,1253.29 L988.05,1249.6 L980.9,1245.91 Z" fill="#0000FF" fill-rule="evenodd"/>
<path d="M988.6,1236.3 L1009.4,1236.3 L1009.4,1257.1 L988.6,1257.1 Z M992.7,1253 L1005.3,1253 L1005.3,1240.4 L992.7,1240.4 Z" fill="#FF0000" fill-rule="evenodd"/>
<path d="M1021.5,1177.1 L1034.5,1199.7 L1008.5,1199.7 Z M1015.59,1195.6 L1027.41,1195.6 L1021.5,1185.32 Z" fill="#FF00CC" fill-rule="evenodd"/>
<path d="M1032.5,1145.2 L1047,1159.7 L1032.5,1174.2 L1018,1159.7 Z M1023.8,1159.7 L1032.5,1168.4 L1041.2,1159.7 L1032.5,1151 Z" fill="#FF0000" fill-rule="evenodd"/>
<path d="M1044.7,1191.3 L1059.2,1205.8 L1044.7,1220.3 L1030.2,1205.8 Z M1036,1205.8 L1044.7,1214.5 L1053.4,1205.8 L1044.7,1197.1 Z" fill="#0000FF" fill-rule="evenodd"/>
<path d="M1054.2,1174.95 L1062.2,1190.7 L1054.2,1206.45 L1046.2,1190.7 Z M1050.8,1190.7 L1054.2,1197.4 L1057.6,1190.7 L1054.2,1184 Z" fill="#0000FF" fill-rule="evenodd"/>
<path d="M1041.8,1120.45 L1049.8,1136.2 L1041.8,1151.95 L1033.8,1136.2 Z M1038.4,1136.2 L1041.8,1142.9 L1045.2,1136.2 L1041.8,1129.5 Z" fill="#FF0000" fill-rule="evenodd"/>
<path d="M1006.6,1272.7 L1032.6,1272.7 L1019.6,1295.3 Z M1019.6,1287.08 L1025.51,1276.8 L1013.69,1276.8 Z" fill="#FF0000" fill-rule="evenodd"/>
<circle cx="1022.4" cy="1288.2" r="8.35" fill="none" stroke="#FF0000" stroke-width="4.1"/>
<path d="M1045.6,1270.2 L1071.6,1270.2 L1058.6,1292.8 Z M1058.6,1284.58 L1064.51,1274.3 L1052.69,1274.3 Z" fill="#0000FF" fill-rule="evenodd"/>
<path d="M1083.9,981.7 L1096.9,1004.3 L1070.9,1004.3 Z M1077.99,1000.2 L1089.81,1000.2 L1083.9,989.92 Z" fill="#A6A6A6" fill-rule="evenodd"/>
<path d="M1156.2,977 L1169.2,999.6 L1143.2,999.6 Z M1150.29,995.5 L1162.11,995.5 L1156.2,985.22 Z" fill="#00CCCC" fill-rule="evenodd"/>
<path d="M1154,996.5 L1167,1019.1 L1141,1019.1 Z M1148.09,1015 L1159.91,1015 L1154,1004.72 Z" fill="#006060" fill-rule="evenodd"/>
<path d="M1127.7,1096.7 L1140.7,1119.3 L1114.7,1119.3 Z M1121.79,1115.2 L1133.61,1115.2 L1127.7,1104.92 Z" fill="#AA70E0" fill-rule="evenodd"/>
<path d="M1151.1,1145.5 L1164.1,1168.1 L1138.1,1168.1 Z M1145.19,1164 L1157.01,1164 L1151.1,1153.72 Z" fill="#FFA500" fill-rule="evenodd"/>
<path d="M1140.7,1145.5 L1153.7,1168.1 L1127.7,1168.1 Z" fill="#4C9900"/>
<path d="M1077.1,1170.7 L1097.9,1170.7 L1097.9,1191.5 L1077.1,1191.5 Z M1081.2,1187.4 L1093.8,1187.4 L1093.8,1174.8 L1081.2,1174.8 Z" fill="#0000FF" fill-rule="evenodd"/>
<path d="M1117.6,1196.1 L1130.6,1218.7 L1104.6,1218.7 Z" fill="#6600CC"/>
<path d="M1214,925.2 L1227,947.8 L1201,947.8 Z M1208.09,943.7 L1219.91,943.7 L1214,933.42 Z" fill="#000000" fill-rule="evenodd"/>
<path d="M1262,984 L1275,1006.6 L1249,1006.6 Z M1256.09,1002.5 L1267.91,1002.5 L1262,992.22 Z" fill="#4C9900" fill-rule="evenodd"/>
<path d="M1333.8,821.4 L1346.8,844 L1320.8,844 Z M1327.89,839.9 L1339.71,839.9 L1333.8,829.62 Z" fill="#6600CC" fill-rule="evenodd"/>
<line x1="938.3" y1="1302.7" x2="1321" y2="895.5" stroke="#000" stroke-width="6.4" stroke-dasharray="2.0 1.85"/>
<g stroke="#000" stroke-width="2" stroke-linecap="square" fill="none"><line x1="1440" y1="824.21" x2="1440" y2="1302.73"/><line x1="1440" y1="1302.73" x2="1993.95" y2="1302.73"/><line x1="1412.7" y1="1302.73" x2="1440" y2="1302.73"/><line x1="1412.7" y1="1183.1" x2="1440" y2="1183.1"/><line x1="1412.7" y1="1063.47" x2="1440" y2="1063.47"/><line x1="1412.7" y1="943.84" x2="1440" y2="943.84"/><line x1="1412.7" y1="824.21" x2="1440" y2="824.21"/><line x1="1439.98" y1="1302.73" x2="1439.98" y2="1316.73"/><line x1="1447.91" y1="1302.73" x2="1447.91" y2="1316.73"/><line x1="1455" y1="1302.73" x2="1455" y2="1329.93"/><line x1="1501.66" y1="1302.73" x2="1501.66" y2="1316.73"/><line x1="1528.95" y1="1302.73" x2="1528.95" y2="1316.73"/><line x1="1548.32" y1="1302.73" x2="1548.32" y2="1316.73"/><line x1="1563.34" y1="1302.73" x2="1563.34" y2="1316.73"/><line x1="1575.61" y1="1302.73" x2="1575.61" y2="1316.73"/><line x1="1585.99" y1="1302.73" x2="1585.99" y2="1316.73"/><line x1="1594.98" y1="1302.73" x2="1594.98" y2="1316.73"/><line x1="1602.91" y1="1302.73" x2="1602.91" y2="1316.73"/><line x1="1610" y1="1302.73" x2="1610" y2="1329.93"/><line x1="1656.66" y1="1302.73" x2="1656.66" y2="1316.73"/><line x1="1683.95" y1="1302.73" x2="1683.95" y2="1316.73"/><line x1="1703.32" y1="1302.73" x2="1703.32" y2="1316.73"/><line x1="1718.34" y1="1302.73" x2="1718.34" y2="1316.73"/><line x1="1730.61" y1="1302.73" x2="1730.61" y2="1316.73"/><line x1="1740.99" y1="1302.73" x2="1740.99" y2="1316.73"/><line x1="1749.98" y1="1302.73" x2="1749.98" y2="1316.73"/><line x1="1757.91" y1="1302.73" x2="1757.91" y2="1316.73"/><line x1="1765" y1="1302.73" x2="1765" y2="1329.93"/><line x1="1811.66" y1="1302.73" x2="1811.66" y2="1316.73"/><line x1="1838.95" y1="1302.73" x2="1838.95" y2="1316.73"/><line x1="1858.32" y1="1302.73" x2="1858.32" y2="1316.73"/><line x1="1873.34" y1="1302.73" x2="1873.34" y2="1316.73"/><line x1="1885.61" y1="1302.73" x2="1885.61" y2="1316.73"/><line x1="1895.99" y1="1302.73" x2="1895.99" y2="1316.73"/><line x1="1904.98" y1="1302.73" x2="1904.98" y2="1316.73"/><line x1="1912.91" y1="1302.73" x2="1912.91" y2="1316.73"/><line x1="1920" y1="1302.73" x2="1920" y2="1329.93"/><line x1="1966.66" y1="1302.73" x2="1966.66" y2="1316.73"/><line x1="1993.95" y1="1302.73" x2="1993.95" y2="1316.73"/></g>
<text x="1455" y="1374.73" font-size="33" text-anchor="middle">0.01</text>
<text x="1610" y="1374.73" font-size="33" text-anchor="middle">0.1</text>
<text x="1765" y="1374.73" font-size="33" text-anchor="middle">1</text>
<text x="1920" y="1374.73" font-size="33" text-anchor="middle">10</text>
<text x="1468.8" y="848.6" font-size="27.3">(f) Slope = 1.35±0.24</text>
<text x="1506.8" y="878.8" font-size="27.3">Intercept = 0.54±0.21</text>
<text x="1506.8" y="920.2" font-size="27.3">R<tspan font-size="19" dy="-18.5">2</tspan><tspan font-size="27.3" dy="18.5"> = 0.72</tspan></text>
<line x1="1587.7" y1="1302.7" x2="1764.5" y2="1118.5" stroke="#000" stroke-width="6.4" stroke-dasharray="2.0 1.85"/>
<path d="M1548.7,1283.75 L1556.7,1299.5 L1548.7,1315.25 L1540.7,1299.5 Z M1545.3,1299.5 L1548.7,1306.2 L1552.1,1299.5 L1548.7,1292.8 Z" fill="#0000FF" fill-rule="evenodd"/>
<path d="M1571,1284.7 L1597,1284.7 L1584,1307.3 Z M1584,1299.08 L1589.91,1288.8 L1578.09,1288.8 Z" fill="#0000FF" fill-rule="evenodd"/>
<path d="M1573,1293.9 L1599,1293.9 L1586,1316.5 Z M1586,1308.28 L1591.91,1298 L1580.09,1298 Z" fill="#FF0000" fill-rule="evenodd"/>
<path d="M1603,1271 L1617.5,1285.5 L1603,1300 L1588.5,1285.5 Z M1594.3,1285.5 L1603,1294.2 L1611.7,1285.5 L1603,1276.8 Z" fill="#0000FF" fill-rule="evenodd"/>
<path d="M1602.7,1303.5 L1625.3,1290.5 L1625.3,1316.5 Z M1621.2,1309.41 L1621.2,1297.59 L1610.92,1303.5 Z" fill="#0000FF" fill-rule="evenodd"/>
<path d="M1627.9,1279.3 L1640.9,1301.9 L1614.9,1301.9 Z" fill="#6600CC"/>
<path d="M1622.2,1246 L1635.2,1268.6 L1609.2,1268.6 Z" fill="#4C9900"/>
<path d="M1622.5,1271.7 L1643.3,1271.7 L1643.3,1292.5 L1622.5,1292.5 Z M1626.6,1288.4 L1639.2,1288.4 L1639.2,1275.8 L1626.6,1275.8 Z" fill="#0000FF" fill-rule="evenodd"/>
<circle cx="1637.6" cy="1262.9" r="8.35" fill="none" stroke="#0000FF" stroke-width="4.1"/>
<path d="M1633.5,1280.6 L1649.6,1288.9 L1633.5,1297.2 L1617.4,1288.9 Z M1626.35,1288.9 L1633.5,1292.59 L1640.65,1288.9 L1633.5,1285.21 Z" fill="#0000FF" fill-rule="evenodd"/>
<path d="M1729.6,1006.7 L1742.6,1029.3 L1716.6,1029.3 Z M1723.69,1025.2 L1735.51,1025.2 L1729.6,1014.92 Z" fill="#00CCCC" fill-rule="evenodd"/>
<path d="M1762.6,1115.5 L1775.6,1138.1 L1749.6,1138.1 Z M1756.69,1134 L1768.51,1134 L1762.6,1123.72 Z" fill="#AA70E0" fill-rule="evenodd"/>
<path d="M1726.4,1166.9 L1739.4,1189.5 L1713.4,1189.5 Z M1720.49,1185.4 L1732.31,1185.4 L1726.4,1175.12 Z" fill="#006060" fill-rule="evenodd"/>
<path d="M1750.6,1165.7 L1763.6,1188.3 L1737.6,1188.3 Z M1744.69,1184.2 L1756.51,1184.2 L1750.6,1173.92 Z" fill="#FFA500" fill-rule="evenodd"/>
</svg></body></html>
